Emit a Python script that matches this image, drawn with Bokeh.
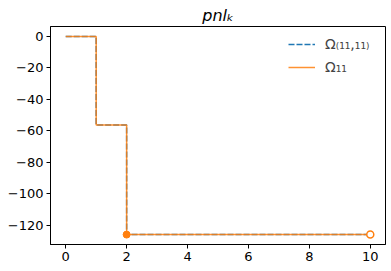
from bokeh.plotting import figure
from bokeh.models import FixedTicker, Range1d, Legend, LegendItem
from bokeh.embed import file_html
from bokeh.resources import INLINE

# data
step_x = [0, 1, 2, 10]
omega_11_11 = [0, -56.3, -126, -126]
omega_11 = [0, -56.3, -126, -126]
filled_x = [2]
filled_y = [-126]
open_x = [10]
open_y = [-126]
x_ticks = [0, 2, 4, 6, 8, 10]
y_ticks = [0, -20, -40, -60, -80, -100, -120]
y_labels = ["0", "\u221220", "\u221240", "\u221260", "\u221280", "\u2212100", "\u2212120"]

BLUE = "#1f77b4"
ORANGE = "#ff7f0e"
FONT = "DejaVu Sans"

p = figure(width=391, height=271, output_backend="svg", toolbar_location=None,
           x_range=Range1d(-0.5, 10.5), y_range=Range1d(-132.3, 6.3),
           min_border_left=50, min_border_right=6, min_border_bottom=27, min_border_top=26)

p.title.text = "pnl\u2096"
p.title.text_font = FONT
p.title.text_font_style = "italic"
p.title.text_font_size = "16px"
p.title.align = "center"
p.title.text_color = "black"
p.title.standoff = 4

p.xgrid.visible = False
p.ygrid.visible = False
p.outline_line_color = "black"
p.outline_line_width = 1
p.background_fill_color = "white"
p.border_fill_color = "white"

for ax in (p.xaxis[0], p.yaxis[0]):
    ax.axis_line_color = "black"
    ax.major_tick_out = 4
    ax.major_tick_in = 0
    ax.minor_tick_line_color = None
    ax.major_label_text_font = FONT
    ax.major_label_text_font_size = "13px"
    ax.major_label_text_color = "black"
    ax.major_label_standoff = 3

p.xaxis.ticker = FixedTicker(ticks=x_ticks)
p.yaxis.ticker = FixedTicker(ticks=y_ticks)
p.yaxis.major_label_overrides = {t: l for t, l in zip(y_ticks, y_labels)}

r1 = p.step(step_x, omega_11_11, mode="after", line_color=BLUE, line_width=1.5, line_dash="6 2")
r2 = p.step(step_x, omega_11, mode="after", line_color=ORANGE, line_width=1.5, line_alpha=0.85)
p.scatter(filled_x, filled_y, size=7, marker="circle", fill_color=ORANGE, line_color=ORANGE)
p.scatter(open_x, open_y, size=7, marker="circle", fill_color="white", line_color=ORANGE, line_width=1.5)

legend = Legend(items=[LegendItem(label="\u03a9\u208d\u2081\u2081,\u2081\u2081\u208e", renderers=[r1]),
                       LegendItem(label="\u03a9\u2081\u2081", renderers=[r2])],
                location="top_right")
legend.border_line_alpha = 0
legend.background_fill_alpha = 0
legend.label_text_font = FONT
legend.label_text_font_size = "14px"
legend.glyph_width = 27
legend.label_width = 52
legend.label_standoff = 10
legend.spacing = 3
legend.margin = 4
legend.padding = 4
p.add_layout(legend)

open("out.html", "w").write(file_html(p, INLINE))
